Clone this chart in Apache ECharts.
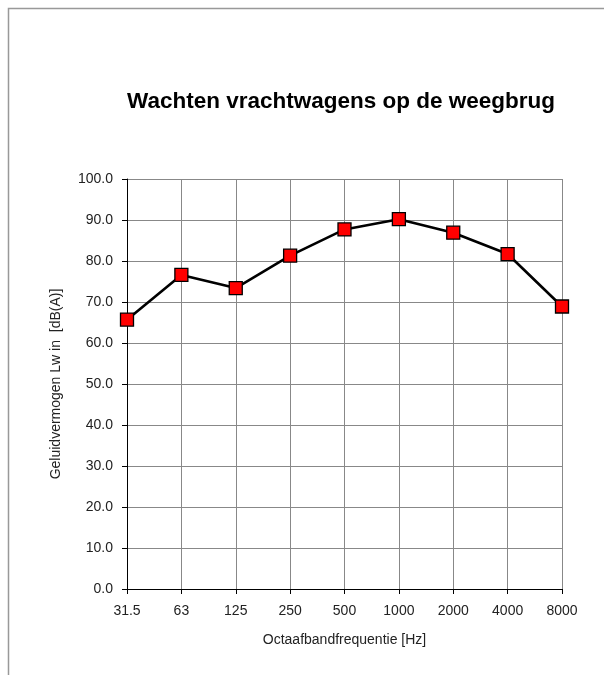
<!DOCTYPE html>
<html>
<head>
<meta charset="utf-8">
<script src="https://cdn.jsdelivr.net/npm/echarts@6/dist/echarts.min.js"></script>
<style>
  html, body { margin: 0; padding: 0; background: #fff; }
  #chart { width: 604px; height: 675px; }
</style>
</head>
<body>
<div id="chart"></div>
<script>
// octaafbanden en geluidvermogen
var frequencies = ['31.5', '63', '125', '250', '500', '1000', '2000', '4000', '8000'];
var levels = [65.7, 76.6, 73.4, 81.3, 87.7, 90.2, 86.9, 81.7, 68.9];

(function () {
  var myChart = echarts.init(document.getElementById('chart'));
  var font = 'Liberation Sans, Arial, sans-serif';
  var option = {
    backgroundColor: '#fff',
    animation: false,
    title: {
      text: 'Wachten vrachtwagens op de weegbrug',
      left: 336,
      top: 85,
      textAlign: 'center',
      textStyle: {
        fontFamily: font,
        fontSize: 22.5,
        fontWeight: 'bold',
        color: '#000'
      }
    },
    graphic: [
      {
        type: 'polyline',
        shape: { points: [[8.5, 675], [8.5, 8.5], [604, 8.5]] },
        style: { stroke: '#999', lineWidth: 1.5, fill: null }
      }
    ],
    grid: {
      left: 127,
      top: 179,
      width: 435,
      height: 410
    },
    xAxis: {
      type: 'category',
      boundaryGap: false,
      data: frequencies,
      name: 'Octaafbandfrequentie [Hz]',
      nameLocation: 'middle',
      nameGap: 44,
      nameTextStyle: { fontFamily: font, fontSize: 14, color: '#222' },
      axisLine: { lineStyle: { color: '#000', width: 1 } },
      axisTick: { show: true, length: 5, alignWithLabel: true, lineStyle: { color: '#000' } },
      axisLabel: { fontFamily: font, fontSize: 14, color: '#222', margin: 15 },
      splitLine: { show: true, lineStyle: { color: '#888', width: 1 } }
    },
    yAxis: {
      type: 'value',
      min: 0,
      max: 100,
      interval: 10,
      name: 'Geluidvermogen Lw in  [dB(A)]',
      nameLocation: 'middle',
      nameGap: 64,
      nameTextStyle: { fontFamily: font, fontSize: 14, color: '#222' },
      axisLine: { show: true, lineStyle: { color: '#000', width: 1 } },
      axisTick: { show: true, length: 5, lineStyle: { color: '#000' } },
      axisLabel: {
        fontFamily: font,
        fontSize: 14,
        color: '#222',
        margin: 14,
        formatter: function (v) { return v.toFixed(1); }
      },
      splitLine: { show: true, lineStyle: { color: '#888', width: 1 } }
    },
    series: [
      {
        type: 'line',
        data: levels,
        symbol: 'rect',
        symbolSize: 13,
        itemStyle: { color: '#ff0000', borderColor: '#000', borderWidth: 1.3 },
        lineStyle: { color: '#000', width: 2.6 }
      }
    ]
  };
  myChart.setOption(option);
})();
</script>
</body>
</html>
